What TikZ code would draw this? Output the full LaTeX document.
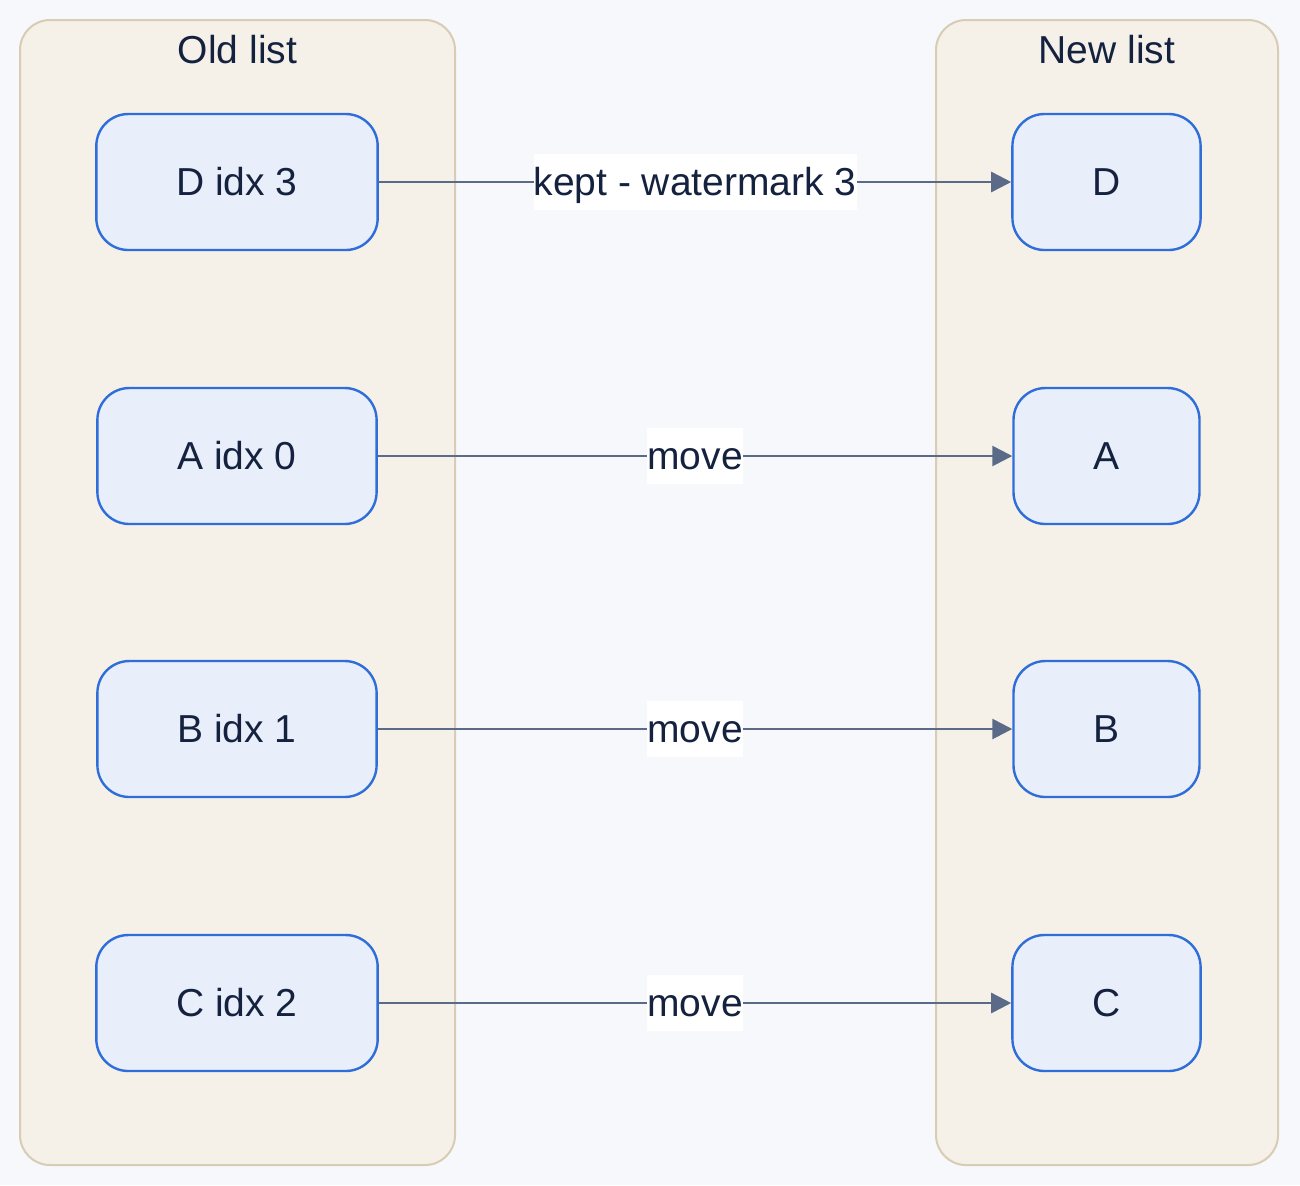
\documentclass[tikz,border=0pt]{standalone}
\usepackage{fontspec}
\setmainfont{Liberation Sans}
\usetikzlibrary{arrows.meta}
\definecolor{canvas}{HTML}{F7F8FC}
\definecolor{groupfill}{HTML}{F5F1E9}
\definecolor{groupline}{HTML}{D8CCB4}
\definecolor{itemfill}{HTML}{E8EFFA}
\definecolor{itemline}{HTML}{2F6DD9}
\definecolor{ink}{HTML}{15223F}
\definecolor{wire}{HTML}{5B6B87}
\begin{document}
\begin{tikzpicture}[x=0.5pt,y=-0.5pt,
    every node/.style={text=ink,font=\fontsize{19.5pt}{23pt}\selectfont},
    group/.style={draw=groupline,fill=groupfill,line width=1pt,rounded corners=15pt},
    item/.style={draw=itemline,fill=itemfill,line width=1.2pt,rounded corners=16pt,
      inner xsep=40pt,minimum height=68pt},
    link/.style={draw=wire,line width=1.3pt,-{Triangle[length=10pt,width=10pt]}},
    tag/.style={fill=white,inner xsep=0pt,inner ysep=0pt,minimum height=28pt,
      text height=13pt,text depth=0pt}]
  \useasboundingbox[fill=canvas] (0,0) rectangle (1300,1185);

  % Groups
  \draw[group] (20,20) rectangle (455,1165);
  \draw[group] (936,20) rectangle (1278,1165);
  \node (oldtitle) at (237.5,50) {Old list};
  \node (newtitle) at (1107,50) {New list};

  % Old list
  \node[item] (oldD) at (237,182) {D idx 3};
  \node[item] (oldA) at (237,456) {A idx 0};
  \node[item] (oldB) at (237,729) {B idx 1};
  \node[item] (oldC) at (237,1003) {C idx 2};

  % New list
  \node[item] (newD) at (1106.5,182) {D};
  \node[item] (newA) at (1106.5,456) {A};
  \node[item] (newB) at (1106.5,729) {B};
  \node[item] (newC) at (1106.5,1003) {C};

  % Moves
  \draw[link] (oldD) -- node[tag] {kept - watermark 3} (newD);
  \draw[link] (oldA) -- node[tag] {move} (newA);
  \draw[link] (oldB) -- node[tag] {move} (newB);
  \draw[link] (oldC) -- node[tag] {move} (newC);
\end{tikzpicture}
\end{document}
